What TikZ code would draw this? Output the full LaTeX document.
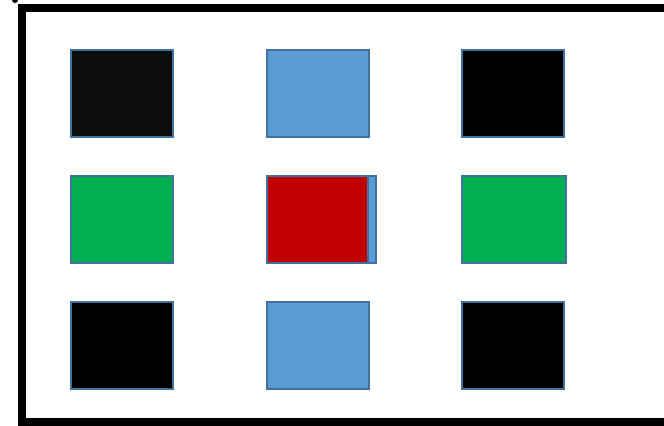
\documentclass[tikz,border=0pt]{standalone}
\definecolor{sqborder}{HTML}{41719C}
\definecolor{sqblue}{HTML}{5B9BD5}
\definecolor{sqgreen}{HTML}{00B050}
\definecolor{sqred}{HTML}{C00000}
\definecolor{sqdark}{HTML}{0D0D0D}
\begin{document}
\begin{tikzpicture}[x=0.75pt,y=-0.75pt,
  sq/.style={draw=sqborder, line width=1.5pt, rectangle, inner sep=0pt, outer sep=0pt,
    minimum width=76.5pt, minimum height=65.25pt},
  frame/.style={draw=black, line width=6pt}]
\useasboundingbox (0,0) rectangle (664,425);
\clip (0,0) rectangle (664,425);
% frame
\node[frame, rectangle, inner sep=0pt, outer sep=0pt, minimum width=(700-22)*0.75pt, minimum height=(421.5-8)*0.75pt, anchor=north west] (frame) at (22,8) {};
\fill[black] (15,0) circle (3);
% row 1
\node[sq, fill=sqdark] (a1) at (122,93.5) {};
\node[sq, fill=sqblue] (a2) at (317.5,93.5) {};
\node[sq, fill=black] (a3) at (513,93.5) {};
% row 2
\node[sq, fill=sqgreen] (b1) at (122,219.5) {};
\node[sq, fill=sqblue, minimum width=81.75pt] (b2back) at (321.5,219.5) {};
\node[sq, fill=sqred, minimum width=75.75pt] (b2) at (317.5,219.5) {};
\node[sq, fill=sqgreen, minimum width=78pt] (b3) at (514,219.5) {};
% row 3
\node[sq, fill=black] (c1) at (122,345.5) {};
\node[sq, fill=sqblue] (c2) at (317.5,345.5) {};
\node[sq, fill=black] (c3) at (513,345.5) {};
\end{tikzpicture}
\end{document}
